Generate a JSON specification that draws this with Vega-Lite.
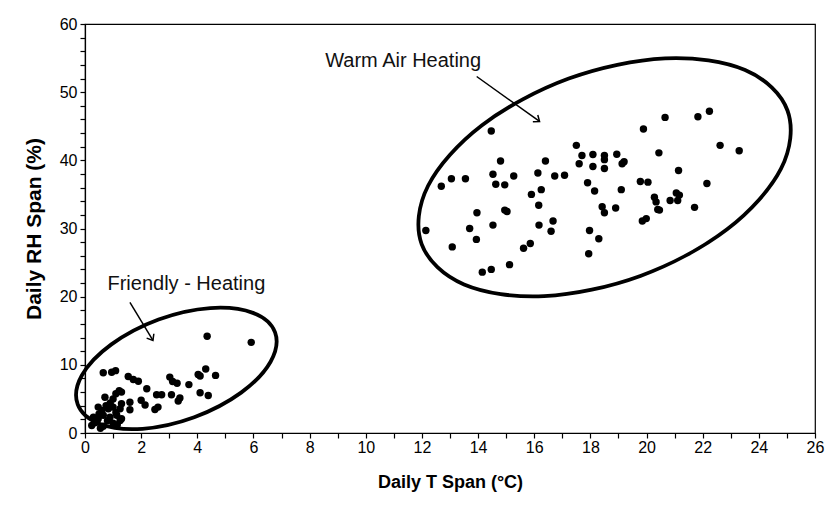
{
  "$schema": "https://vega.github.io/schema/vega-lite/v6.json",
  "autosize": "none",
  "width": 730,
  "height": 409,
  "padding": {"left": 85, "top": 24, "right": 11, "bottom": 72},
  "background": "white",
  "config": {
    "font": "Liberation Sans",
    "view": {"stroke": "#000", "strokeWidth": 1.2},
    "axis": {
      "domainColor": "#000", "tickColor": "#000", "labelColor": "#000", "titleColor": "#000",
      "grid": false, "labelFont": "Liberation Sans", "titleFont": "Liberation Sans",
      "labelFontSize": 16, "titleFontSize": 18, "titleFontWeight": "bold", "tickSize": 5,
      "domainWidth": 1.2, "tickWidth": 1.2, "labelOverlap": false, "labelFlush": false
    }
  },
  "datasets": {
    "points": [
      {"t": 0.24, "rh": 1.1}, {"t": 0.42, "rh": 1.6}, {"t": 0.65, "rh": 1.0}, {"t": 1.0, "rh": 1.45}, {"t": 1.25, "rh": 1.85},
      {"t": 0.3, "rh": 2.3}, {"t": 0.47, "rh": 2.1}, {"t": 0.65, "rh": 2.6}, {"t": 0.89, "rh": 2.3}, {"t": 1.13, "rh": 2.6},
      {"t": 1.3, "rh": 2.1}, {"t": 0.47, "rh": 3.8}, {"t": 0.6, "rh": 3.3}, {"t": 0.83, "rh": 3.55}, {"t": 1.0, "rh": 3.8},
      {"t": 1.3, "rh": 4.3}, {"t": 1.25, "rh": 3.55}, {"t": 1.6, "rh": 4.5}, {"t": 1.6, "rh": 3.4}, {"t": 0.71, "rh": 5.25},
      {"t": 1.0, "rh": 5.0}, {"t": 1.1, "rh": 5.75}, {"t": 1.22, "rh": 6.2}, {"t": 1.3, "rh": 6.0}, {"t": 0.65, "rh": 8.85},
      {"t": 0.95, "rh": 8.9}, {"t": 1.09, "rh": 9.15}, {"t": 1.54, "rh": 8.3}, {"t": 1.72, "rh": 7.85}, {"t": 1.9, "rh": 7.6},
      {"t": 2.2, "rh": 6.5}, {"t": 2.55, "rh": 5.6}, {"t": 2.73, "rh": 5.6}, {"t": 3.02, "rh": 8.2}, {"t": 3.12, "rh": 7.55},
      {"t": 3.08, "rh": 5.6}, {"t": 3.38, "rh": 5.15}, {"t": 3.32, "rh": 4.7}, {"t": 2.49, "rh": 3.45}, {"t": 2.6, "rh": 3.8},
      {"t": 2.0, "rh": 4.8}, {"t": 2.14, "rh": 4.1}, {"t": 4.35, "rh": 14.2}, {"t": 5.92, "rh": 13.3}, {"t": 4.3, "rh": 9.4},
      {"t": 4.03, "rh": 8.6}, {"t": 4.1, "rh": 8.35}, {"t": 4.65, "rh": 8.45}, {"t": 3.7, "rh": 7.1}, {"t": 3.28, "rh": 7.3},
      {"t": 4.1, "rh": 5.9}, {"t": 4.39, "rh": 5.5}, {"t": 0.5, "rh": 2.8}, {"t": 0.8, "rh": 1.8}, {"t": 0.35, "rh": 1.5},
      {"t": 0.55, "rh": 0.7}, {"t": 1.1, "rh": 3.0}, {"t": 0.9, "rh": 4.4}, {"t": 0.75, "rh": 4.0}, {"t": 1.15, "rh": 1.2},
      {"t": 12.14, "rh": 29.7}, {"t": 12.69, "rh": 36.2}, {"t": 13.05, "rh": 37.3}, {"t": 13.08, "rh": 27.3}, {"t": 13.55, "rh": 37.3},
      {"t": 13.7, "rh": 30.0}, {"t": 13.94, "rh": 28.4}, {"t": 13.96, "rh": 32.3}, {"t": 14.15, "rh": 23.6}, {"t": 14.47, "rh": 24.0},
      {"t": 14.47, "rh": 44.3}, {"t": 14.53, "rh": 37.96}, {"t": 14.53, "rh": 30.5}, {"t": 14.63, "rh": 36.5}, {"t": 14.8, "rh": 39.9},
      {"t": 14.95, "rh": 36.4}, {"t": 14.95, "rh": 32.7}, {"t": 15.03, "rh": 32.5}, {"t": 15.12, "rh": 24.7}, {"t": 15.27, "rh": 37.7},
      {"t": 15.62, "rh": 27.1}, {"t": 15.86, "rh": 27.8}, {"t": 15.9, "rh": 35.0}, {"t": 16.13, "rh": 38.15}, {"t": 16.16, "rh": 33.4},
      {"t": 16.17, "rh": 30.5}, {"t": 16.25, "rh": 35.7}, {"t": 16.4, "rh": 39.9}, {"t": 16.6, "rh": 29.6}, {"t": 16.67, "rh": 31.1},
      {"t": 16.73, "rh": 37.7}, {"t": 17.08, "rh": 37.8}, {"t": 17.5, "rh": 42.2}, {"t": 17.6, "rh": 39.5}, {"t": 17.7, "rh": 40.7},
      {"t": 17.9, "rh": 36.7}, {"t": 17.94, "rh": 26.3}, {"t": 17.97, "rh": 29.7}, {"t": 18.09, "rh": 40.85}, {"t": 18.09, "rh": 39.1},
      {"t": 18.15, "rh": 35.5}, {"t": 18.3, "rh": 28.5}, {"t": 18.42, "rh": 33.2}, {"t": 18.5, "rh": 32.3}, {"t": 18.5, "rh": 40.7},
      {"t": 18.5, "rh": 40.1}, {"t": 18.5, "rh": 38.8}, {"t": 18.9, "rh": 33.0}, {"t": 18.94, "rh": 40.9}, {"t": 19.1, "rh": 35.7},
      {"t": 19.13, "rh": 39.5}, {"t": 19.2, "rh": 39.8}, {"t": 19.78, "rh": 36.9}, {"t": 19.85, "rh": 31.1}, {"t": 19.89, "rh": 44.6},
      {"t": 19.99, "rh": 31.45}, {"t": 20.05, "rh": 36.8}, {"t": 20.28, "rh": 34.6}, {"t": 20.34, "rh": 33.9}, {"t": 20.4, "rh": 32.8},
      {"t": 20.46, "rh": 32.7}, {"t": 20.44, "rh": 41.1}, {"t": 20.66, "rh": 46.3}, {"t": 20.84, "rh": 34.1}, {"t": 21.06, "rh": 35.2},
      {"t": 21.11, "rh": 34.1}, {"t": 21.14, "rh": 38.5}, {"t": 21.17, "rh": 34.9}, {"t": 21.71, "rh": 33.1}, {"t": 21.83, "rh": 46.4},
      {"t": 22.15, "rh": 36.6}, {"t": 22.24, "rh": 47.2}, {"t": 22.62, "rh": 42.2}, {"t": 23.3, "rh": 41.4}
    ],
    "ellipses": [
      {"name": "warm", "i": 0, "t": 25.02, "rh": 47.31}, {"name": "warm", "i": 1, "t": 24.79, "rh": 38.77},
      {"name": "warm", "i": 2, "t": 22.87, "rh": 29.88}, {"name": "warm", "i": 3, "t": 19.78, "rh": 23.04},
      {"name": "warm", "i": 4, "t": 16.35, "rh": 20.07}, {"name": "warm", "i": 5, "t": 13.5, "rh": 21.79},
      {"name": "warm", "i": 6, "t": 11.99, "rh": 27.72}, {"name": "warm", "i": 7, "t": 12.22, "rh": 36.27},
      {"name": "warm", "i": 8, "t": 14.14, "rh": 45.15}, {"name": "warm", "i": 9, "t": 17.23, "rh": 52.0},
      {"name": "warm", "i": 10, "t": 20.66, "rh": 54.96}, {"name": "warm", "i": 11, "t": 23.51, "rh": 53.24},
      {"name": "friendly", "i": 0, "t": 6.77, "rh": 14.75}, {"name": "friendly", "i": 1, "t": 6.61, "rh": 10.46},
      {"name": "friendly", "i": 2, "t": 5.56, "rh": 5.92}, {"name": "friendly", "i": 3, "t": 3.89, "rh": 2.31},
      {"name": "friendly", "i": 4, "t": 2.05, "rh": 0.62}, {"name": "friendly", "i": 5, "t": 0.53, "rh": 1.32},
      {"name": "friendly", "i": 6, "t": -0.26, "rh": 4.19}, {"name": "friendly", "i": 7, "t": -0.11, "rh": 8.47},
      {"name": "friendly", "i": 8, "t": 0.94, "rh": 13.0}, {"name": "friendly", "i": 9, "t": 2.62, "rh": 16.65},
      {"name": "friendly", "i": 10, "t": 4.46, "rh": 18.33}, {"name": "friendly", "i": 11, "t": 5.98, "rh": 17.62}
    ],
    "arrows": [
      {"name": "warm", "t": 13.95, "rh": 52.3, "t2": 16.19, "rh2": 45.7},
      {"name": "friendly", "t": 1.6, "rh": 19.16, "t2": 2.42, "rh2": 13.58}
    ],
    "labels": [
      {"text": "Warm Air Heating", "t": 11.33, "rh": 54.6},
      {"text": "Friendly - Heating", "t": 3.61, "rh": 21.8}
    ]
  },
  "encoding": {
    "x": {"field": "t", "type": "quantitative", "scale": {"domain": [0, 26], "nice": false, "zero": false},
      "title": "Daily T Span (°C)",
      "axis": {"values": [0,1,2,3,4,5,6,7,8,9,10,11,12,13,14,15,16,17,18,19,20,21,22,23,24,25,26],
        "labelExpr": "datum.value % 2 === 0 ? datum.label : ''", "labelPadding": 1, "titlePadding": 18}},
    "y": {"field": "rh", "type": "quantitative", "scale": {"domain": [0, 60], "nice": false, "zero": false},
      "title": "Daily RH Span (%)",
      "axis": {"values": [0,2,4,6,8,10,12,14,16,18,20,22,24,26,28,30,32,34,36,38,40,42,44,46,48,50,52,54,56,58,60],
        "labelExpr": "datum.value % 10 === 0 ? datum.label : ''", "labelPadding": 3, "titlePadding": 15, "titleFontSize": 21}}
  },
  "layer": [
    {
      "data": {"name": "points"},
      "mark": {"type": "point", "shape": "circle", "filled": true, "color": "#000", "opacity": 1, "size": 55}
    },
    {
      "data": {"name": "ellipses"},
      "mark": {"type": "line", "interpolate": "cardinal-closed", "color": "#000", "strokeWidth": 3.8},
      "encoding": {
        "detail": {"field": "name"},
        "order": {"field": "i", "type": "quantitative"}
      }
    },
    {
      "data": {"name": "arrows"},
      "mark": {"type": "rule", "color": "#000", "strokeWidth": 1.5},
      "encoding": {
        "x2": {"field": "t2"},
        "y2": {"field": "rh2"}
      }
    },
    {
      "data": {"name": "arrows"},
      "transform": [{"filter": "datum.name === 'warm'"}],
      "mark": {"type": "point", "shape": "M-0.8,1L0,0L0.8,1", "filled": false, "color": "#000", "strokeWidth": 1.5, "opacity": 1, "size": 110, "angle": 126},
      "encoding": {
        "x": {"field": "t2", "type": "quantitative"},
        "y": {"field": "rh2", "type": "quantitative"}
      }
    },
    {
      "data": {"name": "arrows"},
      "transform": [{"filter": "datum.name === 'friendly'"}],
      "mark": {"type": "point", "shape": "M-0.8,1L0,0L0.8,1", "filled": false, "color": "#000", "strokeWidth": 1.5, "opacity": 1, "size": 110, "angle": 149},
      "encoding": {
        "x": {"field": "t2", "type": "quantitative"},
        "y": {"field": "rh2", "type": "quantitative"}
      }
    },
    {
      "data": {"name": "labels"},
      "mark": {"type": "text", "font": "Liberation Sans", "fontSize": 20, "color": "#111", "align": "center", "baseline": "middle"},
      "encoding": {
        "text": {"field": "text"}
      }
    }
  ]
}
